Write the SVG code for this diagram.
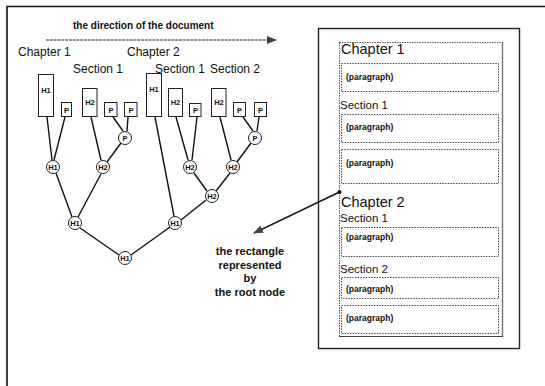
<svg xmlns="http://www.w3.org/2000/svg" width="545" height="386" viewBox="0 0 545 386">
  <style>
    .frame { fill: none; stroke: #111; stroke-width: 1.6; }
    .box { fill: #fff; stroke: #222; stroke-width: 1; }
    .circ { fill: #fff; stroke: #222; stroke-width: 1; }
    .edge { stroke: #111; stroke-width: 1.4; fill: none; }
    .lbl { font-family: "Liberation Sans", Arial, sans-serif; font-size: 12px; fill: #111; }
    .big { font-family: "Liberation Sans", Arial, sans-serif; font-size: 14.5px; fill: #111; }
    .sec { font-family: "Liberation Sans", Arial, sans-serif; font-size: 11.5px; fill: #111; }
    .tag { font-family: "Liberation Sans", Arial, sans-serif; font-size: 7.5px; font-weight: bold; fill: #111; text-anchor: middle; }
    .para { font-family: "Liberation Sans", Arial, sans-serif; font-size: 8.5px; font-weight: bold; fill: #111; }
    .note { font-family: "Liberation Sans", Arial, sans-serif; font-size: 11px; font-weight: bold; fill: #111; text-anchor: middle; }
    .dotbox { fill: none; stroke: #333; stroke-width: 0.9; stroke-dasharray: 1.5 1.2; }
  </style>
  <defs>
    <marker id="tri" markerWidth="10" markerHeight="8" refX="9" refY="4" orient="auto" markerUnits="userSpaceOnUse">
      <path d="M0,0 L10,4 L0,8 Z" fill="#444"/>
    </marker>
  </defs>

  <!-- outer frame (top and left edges) -->
  <path class="frame" d="M7,386 L7,6.5 L545,6.5"/>

  <!-- heading and document-direction arrow -->
  <text x="73" y="29" font-family="Liberation Sans, Arial, sans-serif" font-size="10px" font-weight="bold" fill="#111">the direction of the document</text>
  <line x1="46" y1="40" x2="276" y2="40" stroke="#222" stroke-width="1" stroke-dasharray="3 0.8" marker-end="url(#tri)"/>

  <!-- chapter / section labels over the tree -->
  <text class="lbl" x="18" y="56">Chapter 1</text>
  <text class="lbl" x="127" y="56">Chapter 2</text>
  <text class="lbl" x="73" y="73">Section 1</text>
  <text class="lbl" x="155" y="73">Section 1</text>
  <text class="lbl" x="210" y="73">Section 2</text>

  <!-- connectors of the tree -->
  <g id="connectors">
    <line class="edge" x1="47" y1="117" x2="52" y2="160"/>
    <line class="edge" x1="65" y1="117" x2="54" y2="160"/>
    <line class="edge" x1="91" y1="117" x2="101" y2="160"/>
    <line class="edge" x1="113" y1="117" x2="123" y2="131"/>
    <line class="edge" x1="128" y1="117" x2="127" y2="131"/>
    <line class="edge" x1="121" y1="143" x2="107" y2="162"/>
    <line class="edge" x1="56" y1="173" x2="72" y2="217"/>
    <line class="edge" x1="101" y1="174" x2="78" y2="217"/>
    <line class="edge" x1="155" y1="117" x2="174" y2="216"/>
    <line class="edge" x1="176" y1="117" x2="188" y2="160"/>
    <line class="edge" x1="197" y1="117" x2="192" y2="160"/>
    <line class="edge" x1="220" y1="117" x2="231" y2="160"/>
    <line class="edge" x1="243" y1="117" x2="253" y2="131"/>
    <line class="edge" x1="259" y1="117" x2="257" y2="131"/>
    <line class="edge" x1="251" y1="143" x2="237" y2="162"/>
    <line class="edge" x1="194" y1="173" x2="207" y2="191"/>
    <line class="edge" x1="230" y1="173" x2="216" y2="191"/>
    <line class="edge" x1="206" y1="200" x2="181" y2="220"/>
    <line class="edge" x1="80" y1="228" x2="119" y2="255"/>
    <line class="edge" x1="170" y1="227" x2="131" y2="255"/>
  </g>

  <!-- leaf rectangles -->
  <g id="r-h1-ch1"><rect class="box" x="38.5" y="74.5" width="15" height="42"/><text class="tag" x="46" y="93">H1</text></g>
  <g id="r-p-1"><rect class="box" x="61.5" y="102.5" width="10" height="14"/><text class="tag" x="66.5" y="112.5">P</text></g>
  <g id="r-h2-s1"><rect class="box" x="82.5" y="88.5" width="14.5" height="28"/><text class="tag" x="90" y="105">H2</text></g>
  <g id="r-p-2"><rect class="box" x="104.5" y="102.5" width="12.5" height="14"/><text class="tag" x="111" y="112.5">P</text></g>
  <g id="r-p-3"><rect class="box" x="124.5" y="102.5" width="12.5" height="14"/><text class="tag" x="131" y="112.5">P</text></g>
  <g id="r-h1-ch2"><rect class="box" x="146.5" y="73.5" width="15" height="43"/><text class="tag" x="154" y="92">H1</text></g>
  <g id="r-h2-s1b"><rect class="box" x="168.5" y="88.5" width="14" height="28"/><text class="tag" x="175.5" y="105">H2</text></g>
  <g id="r-p-4"><rect class="box" x="189.5" y="103.5" width="11.5" height="13"/><text class="tag" x="195.5" y="113">P</text></g>
  <g id="r-h2-s2"><rect class="box" x="211.5" y="88.5" width="14.5" height="28"/><text class="tag" x="219" y="105">H2</text></g>
  <g id="r-p-5"><rect class="box" x="233.5" y="102.5" width="12" height="14"/><text class="tag" x="239.5" y="112.5">P</text></g>
  <g id="r-p-6"><rect class="box" x="254.5" y="102.5" width="12" height="14"/><text class="tag" x="260.5" y="112.5">P</text></g>

  <!-- inner tree nodes -->
  <g id="c-p-1"><circle class="circ" cx="125" cy="138" r="6.5"/><text class="tag" x="125" y="140.5">P</text></g>
  <g id="c-h1-a"><circle class="circ" cx="53" cy="167" r="6.5"/><text class="tag" x="53" y="169.5">H1</text></g>
  <g id="c-h2-a"><circle class="circ" cx="103" cy="167" r="6.5"/><text class="tag" x="103" y="169.5">H2</text></g>
  <g id="c-h2-b"><circle class="circ" cx="190" cy="167" r="6.5"/><text class="tag" x="190" y="169.5">H2</text></g>
  <g id="c-h2-c"><circle class="circ" cx="233" cy="167" r="6.5"/><text class="tag" x="233" y="169.5">H2</text></g>
  <g id="c-p-2"><circle class="circ" cx="255" cy="138" r="6.5"/><text class="tag" x="255" y="140.5">P</text></g>
  <g id="c-h2-d"><circle class="circ" cx="212" cy="196" r="6.5"/><text class="tag" x="212" y="198.5">H2</text></g>
  <g id="c-h1-b"><circle class="circ" cx="75" cy="223" r="6.5"/><text class="tag" x="75" y="225.5">H1</text></g>
  <g id="c-h1-c"><circle class="circ" cx="175" cy="223" r="6.5"/><text class="tag" x="175" y="225.5">H1</text></g>
  <g id="c-root"><circle class="circ" cx="125" cy="258" r="6.5"/><text class="tag" x="125" y="260.5">H1</text></g>

  <!-- document layout panel -->
  <g id="page">
    <rect x="318.5" y="28.5" width="201" height="320" fill="none" stroke="#222" stroke-width="1.4"/>
    <rect x="339.5" y="42.5" width="163" height="294" fill="none" stroke="#444" stroke-width="0.9" stroke-dasharray="1.5 1"/>
    <line x1="502.5" y1="42" x2="502.5" y2="337" stroke="#777" stroke-width="1.4"/>
    <line x1="339" y1="336.5" x2="503" y2="336.5" stroke="#444" stroke-width="1.2"/>

    <text class="big" x="341" y="54">Chapter 1</text>
    <rect class="dotbox" x="341.5" y="63.5" width="157" height="28"/>
    <text class="para" x="346" y="80">(paragraph)</text>

    <text class="sec" x="340" y="109">Section 1</text>
    <rect class="dotbox" x="341.5" y="114.5" width="157" height="28"/>
    <text class="para" x="346" y="130">(paragraph)</text>
    <rect class="dotbox" x="341.5" y="149.5" width="157" height="34"/>
    <text class="para" x="346" y="166">(paragraph)</text>

    <text class="big" x="341" y="207">Chapter 2</text>
    <text class="sec" x="340" y="222">Section 1</text>
    <rect class="dotbox" x="341.5" y="227.5" width="157" height="29"/>
    <text class="para" x="346" y="240">(paragraph)</text>

    <text class="sec" x="340" y="273">Section 2</text>
    <rect class="dotbox" x="341.5" y="277.5" width="157" height="21"/>
    <text class="para" x="346" y="292">(paragraph)</text>
    <rect class="dotbox" x="341.5" y="305.5" width="157" height="28"/>
    <text class="para" x="346" y="321">(paragraph)</text>
  </g>

  <!-- pointer from the root rectangle to its label -->
  <g id="pointer">
    <circle cx="339.5" cy="192" r="2" fill="#111"/>
    <line x1="339.5" y1="192" x2="254" y2="233" stroke="#111" stroke-width="1.4" marker-end="url(#tri)"/>
  </g>

  <g id="caption">
    <text class="note" x="250" y="255">the rectangle</text>
    <text class="note" x="250" y="269">represented</text>
    <text class="note" x="250" y="282">by</text>
    <text class="note" x="250" y="296">the root node</text>
  </g>
</svg>
